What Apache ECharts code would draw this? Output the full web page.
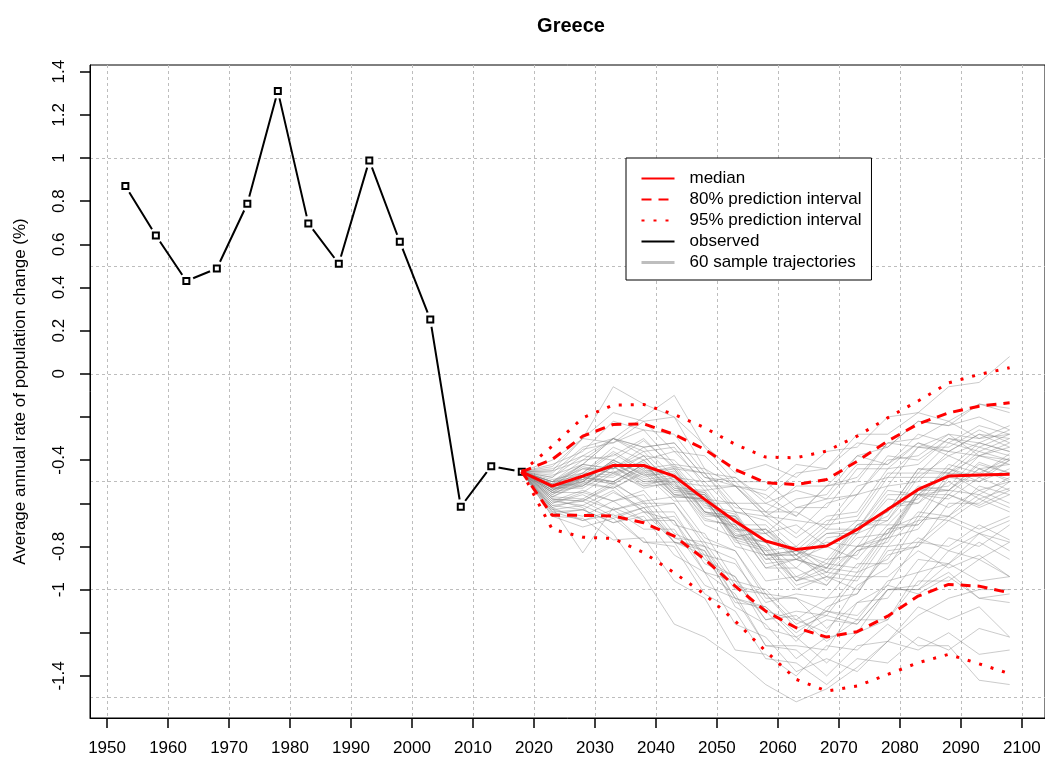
<!DOCTYPE html>
<html><head><meta charset="utf-8">
<script src="https://cdn.jsdelivr.net/npm/echarts@6/dist/echarts.min.js"></script>
<style>html,body{margin:0;padding:0;background:#fff}#c{width:1045px;height:760px}</style>
</head><body><div id="c"></div>
<script>
const obsYears = [1953,1958,1963,1968,1973,1978,1983,1988,1993,1998,2003,2008,2013,2018];
const obsValues = [0.870,0.641,0.430,0.488,0.788,1.310,0.697,0.510,0.989,0.612,0.252,-0.616,-0.428,-0.454];
const projYears = [2018,2023,2028,2033,2038,2043,2048,2053,2058,2063,2068,2073,2078,2083,2088,2093,2098];
const median   = [-0.454,-0.520,-0.474,-0.425,-0.425,-0.474,-0.582,-0.683,-0.775,-0.814,-0.798,-0.721,-0.629,-0.536,-0.474,-0.469,-0.466];
const pi80Upper= [-0.454,-0.397,-0.289,-0.235,-0.232,-0.281,-0.350,-0.443,-0.505,-0.513,-0.490,-0.405,-0.312,-0.232,-0.181,-0.150,-0.134];
const pi80Lower= [-0.454,-0.656,-0.656,-0.659,-0.690,-0.752,-0.860,-0.984,-1.100,-1.177,-1.220,-1.195,-1.123,-1.030,-0.976,-0.984,-1.015];
const pi95Upper= [-0.454,-0.335,-0.204,-0.145,-0.142,-0.188,-0.250,-0.327,-0.386,-0.389,-0.358,-0.289,-0.204,-0.126,-0.042,-0.003,0.028];
const pi95Lower= [-0.454,-0.721,-0.757,-0.763,-0.829,-0.922,-1.022,-1.146,-1.285,-1.416,-1.470,-1.447,-1.393,-1.339,-1.300,-1.344,-1.390];
// sample trajectories, values for 2023..2098 (each starts at the last observed value)
const trajectories = [
 [-0.40,-0.30,-0.18,-0.22,-0.20,-0.33,-0.46,-0.42,-0.48,-0.36,-0.34,-0.20,-0.18,-0.06,-0.04,0.08],
 [-0.45,-0.30,-0.06,-0.14,-0.20,-0.44,-0.52,-0.66,-0.68,-0.70,-0.52,-0.48,-0.34,-0.36,-0.28,-0.30],
 [-0.42,-0.36,-0.22,-0.26,-0.28,-0.46,-0.48,-0.58,-0.46,-0.44,-0.28,-0.28,-0.18,-0.22,-0.14,-0.16],
 [-0.48,-0.35,-0.32,-0.22,-0.36,-0.38,-0.52,-0.56,-0.66,-0.52,-0.48,-0.32,-0.30,-0.22,-0.30,-0.28],
 [-0.50,-0.42,-0.30,-0.34,-0.32,-0.48,-0.52,-0.66,-0.58,-0.56,-0.38,-0.34,-0.22,-0.24,-0.20,-0.26],
 [-0.46,-0.34,-0.30,-0.20,-0.10,-0.34,-0.50,-0.50,-0.62,-0.58,-0.56,-0.40,-0.38,-0.28,-0.30,-0.24],
 [-0.44,-0.38,-0.30,-0.38,-0.40,-0.54,-0.52,-0.54,-0.42,-0.44,-0.32,-0.34,-0.22,-0.24,-0.14,-0.18],
 [-0.50,-0.40,-0.38,-0.30,-0.44,-0.46,-0.62,-0.64,-0.74,-0.60,-0.56,-0.38,-0.40,-0.30,-0.34,-0.28],
 [-0.47,-0.42,-0.30,-0.34,-0.32,-0.48,-0.50,-0.64,-0.64,-0.72,-0.56,-0.52,-0.34,-0.34,-0.26,-0.32],
 [-0.43,-0.30,-0.32,-0.26,-0.42,-0.44,-0.60,-0.60,-0.66,-0.52,-0.50,-0.32,-0.34,-0.28,-0.38,-0.34],
 [-0.49,-0.46,-0.34,-0.40,-0.36,-0.50,-0.48,-0.60,-0.54,-0.58,-0.42,-0.42,-0.28,-0.32,-0.24,-0.28],
 [-0.52,-0.42,-0.44,-0.34,-0.48,-0.50,-0.64,-0.66,-0.76,-0.66,-0.64,-0.44,-0.42,-0.30,-0.32,-0.26],
 [-0.45,-0.40,-0.30,-0.36,-0.34,-0.52,-0.52,-0.64,-0.52,-0.52,-0.38,-0.42,-0.32,-0.36,-0.28,-0.34],
 [-0.48,-0.38,-0.40,-0.31,-0.43,-0.46,-0.64,-0.68,-0.80,-0.68,-0.66,-0.46,-0.46,-0.32,-0.36,-0.30],
 [-0.51,-0.46,-0.36,-0.44,-0.42,-0.58,-0.60,-0.74,-0.62,-0.62,-0.44,-0.44,-0.32,-0.38,-0.32,-0.36],
 [-0.52,-0.43,-0.46,-0.38,-0.52,-0.55,-0.72,-0.74,-0.86,-0.74,-0.72,-0.52,-0.50,-0.36,-0.38,-0.32],
 [-0.54,-0.50,-0.40,-0.47,-0.46,-0.64,-0.66,-0.84,-0.82,-0.88,-0.70,-0.64,-0.44,-0.46,-0.38,-0.40],
 [-0.50,-0.44,-0.46,-0.41,-0.56,-0.58,-0.76,-0.72,-0.82,-0.70,-0.68,-0.48,-0.48,-0.38,-0.44,-0.42],
 [-0.55,-0.52,-0.43,-0.50,-0.48,-0.65,-0.67,-0.86,-0.86,-0.92,-0.74,-0.68,-0.48,-0.48,-0.36,-0.40],
 [-0.53,-0.44,-0.44,-0.36,-0.50,-0.52,-0.70,-0.70,-0.84,-0.78,-0.80,-0.62,-0.60,-0.44,-0.48,-0.40],
 [-0.51,-0.52,-0.42,-0.48,-0.45,-0.62,-0.65,-0.84,-0.84,-0.96,-0.82,-0.78,-0.56,-0.54,-0.41,-0.46],
 [-0.56,-0.49,-0.51,-0.44,-0.57,-0.58,-0.76,-0.78,-0.90,-0.76,-0.74,-0.56,-0.56,-0.44,-0.50,-0.44],
 [-0.52,-0.50,-0.40,-0.46,-0.43,-0.60,-0.60,-0.74,-0.70,-0.80,-0.68,-0.68,-0.52,-0.54,-0.44,-0.50],
 [-0.54,-0.48,-0.50,-0.42,-0.54,-0.55,-0.74,-0.78,-0.96,-0.92,-0.94,-0.74,-0.68,-0.48,-0.50,-0.40],
 [-0.50,-0.47,-0.37,-0.45,-0.44,-0.64,-0.70,-0.90,-0.86,-0.90,-0.72,-0.66,-0.46,-0.46,-0.34,-0.38],
 [-0.57,-0.50,-0.53,-0.46,-0.59,-0.59,-0.75,-0.74,-0.84,-0.72,-0.72,-0.54,-0.56,-0.46,-0.54,-0.50],
 [-0.53,-0.52,-0.43,-0.51,-0.49,-0.67,-0.71,-0.90,-0.90,-0.98,-0.82,-0.76,-0.54,-0.52,-0.38,-0.42],
 [-0.55,-0.47,-0.48,-0.40,-0.53,-0.54,-0.72,-0.72,-0.84,-0.74,-0.74,-0.58,-0.60,-0.50,-0.58,-0.53],
 [-0.52,-0.49,-0.41,-0.49,-0.47,-0.64,-0.68,-0.88,-0.86,-0.90,-0.70,-0.64,-0.44,-0.44,-0.32,-0.36],
 [-0.56,-0.48,-0.50,-0.42,-0.56,-0.59,-0.80,-0.84,-1.00,-0.94,-0.96,-0.76,-0.72,-0.54,-0.56,-0.48],
 [-0.53,-0.53,-0.45,-0.53,-0.50,-0.66,-0.66,-0.82,-0.80,-0.90,-0.76,-0.74,-0.56,-0.58,-0.48,-0.54],
 [-0.51,-0.42,-0.44,-0.38,-0.53,-0.56,-0.76,-0.80,-0.96,-0.90,-0.92,-0.72,-0.66,-0.46,-0.47,-0.37],
 [-0.55,-0.55,-0.46,-0.52,-0.48,-0.64,-0.66,-0.84,-0.82,-0.92,-0.80,-0.80,-0.64,-0.66,-0.56,-0.62],
 [-0.54,-0.46,-0.47,-0.40,-0.54,-0.57,-0.78,-0.82,-0.96,-0.86,-0.84,-0.62,-0.58,-0.42,-0.46,-0.39],
 [-0.52,-0.51,-0.43,-0.52,-0.51,-0.68,-0.70,-0.86,-0.82,-0.86,-0.70,-0.70,-0.56,-0.62,-0.54,-0.60],
 [-0.57,-0.51,-0.53,-0.45,-0.57,-0.58,-0.77,-0.81,-0.98,-0.94,-1.00,-0.84,-0.80,-0.60,-0.60,-0.50],
 [-0.53,-0.50,-0.40,-0.47,-0.44,-0.61,-0.64,-0.84,-0.84,-0.94,-0.80,-0.76,-0.56,-0.56,-0.44,-0.49],
 [-0.55,-0.48,-0.51,-0.43,-0.56,-0.56,-0.73,-0.72,-0.86,-0.80,-0.86,-0.70,-0.70,-0.56,-0.61,-0.54],
 [-0.50,-0.49,-0.41,-0.50,-0.50,-0.70,-0.76,-0.96,-0.94,-0.98,-0.80,-0.74,-0.54,-0.54,-0.42,-0.46],
 [-0.54,-0.47,-0.50,-0.42,-0.55,-0.56,-0.75,-0.78,-0.94,-0.88,-0.90,-0.72,-0.70,-0.56,-0.62,-0.56],
 [-0.58,-0.59,-0.51,-0.59,-0.57,-0.76,-0.82,-1.04,-1.04,-1.10,-0.92,-0.86,-0.66,-0.68,-0.58,-0.64],
 [-0.60,-0.55,-0.59,-0.54,-0.70,-0.74,-0.96,-1.00,-1.14,-1.04,-1.02,-0.82,-0.80,-0.68,-0.74,-0.68],
 [-0.57,-0.58,-0.50,-0.60,-0.60,-0.80,-0.86,-1.10,-1.14,-1.20,-0.98,-0.90,-0.68,-0.66,-0.52,-0.56],
 [-0.62,-0.83,-0.62,-0.68,-0.66,-0.84,-0.88,-1.06,-1.02,-1.04,-0.88,-0.88,-0.76,-0.82,-0.74,-0.82],
 [-0.59,-0.54,-0.59,-0.56,-0.74,-0.80,-1.04,-1.10,-1.24,-1.08,-1.02,-0.80,-0.78,-0.66,-0.72,-0.66],
 [-0.61,-0.63,-0.55,-0.62,-0.60,-0.78,-0.82,-1.02,-1.04,-1.18,-1.06,-1.04,-0.86,-0.88,-0.78,-0.86],
 [-0.63,-0.61,-0.67,-0.62,-0.76,-0.78,-0.98,-1.02,-1.18,-1.12,-1.16,-1.00,-1.00,-0.88,-0.96,-0.94],
 [-0.58,-0.59,-0.52,-0.64,-0.68,-0.92,-1.02,-1.26,-1.26,-1.28,-1.06,-0.98,-0.78,-0.80,-0.70,-0.77],
 [-0.60,-0.56,-0.63,-0.60,-0.78,-0.84,-1.06,-1.08,-1.20,-1.10,-1.12,-0.98,-1.02,-0.94,-1.04,-1.02],
 [-0.64,-0.68,-0.63,-0.72,-0.72,-0.92,-0.96,-1.14,-1.12,-1.24,-1.14,-1.14,-0.96,-0.96,-0.86,-0.94],
 [-0.62,-0.58,-0.63,-0.59,-0.76,-0.82,-1.08,-1.16,-1.32,-1.22,-1.20,-1.00,-1.00,-0.92,-1.04,-1.06],
 [-0.66,-0.71,-0.67,-0.78,-0.78,-0.98,-1.04,-1.26,-1.28,-1.40,-1.26,-1.24,-1.08,-1.14,-1.08,-1.22],
 [-0.58,-0.62,-0.74,-0.94,-1.16,-1.22,-1.32,-1.44,-1.52,-1.46,-1.36,-1.24,-1.12,-1.04,-1.00,-1.00],
 [-0.65,-0.63,-0.69,-0.66,-0.84,-0.92,-1.16,-1.22,-1.38,-1.32,-1.38,-1.24,-1.28,-1.20,-1.30,-1.28],
 [-0.63,-0.66,-0.59,-0.68,-0.68,-0.88,-0.94,-1.14,-1.10,-1.12,-0.94,-0.94,-0.82,-0.90,-0.84,-0.94],
 [-0.66,-0.67,-0.77,-0.76,-0.96,-1.04,-1.28,-1.30,-1.40,-1.26,-1.28,-1.16,-1.26,-1.26,-1.42,-1.44],
 [-0.59,-0.61,-0.54,-0.64,-0.64,-0.86,-0.94,-1.18,-1.22,-1.34,-1.20,-1.14,-0.92,-0.88,-0.74,-0.78],
 [-0.61,-0.59,-0.66,-0.62,-0.78,-0.82,-1.04,-1.08,-1.22,-1.14,-1.16,-1.00,-0.98,-0.82,-0.86,-0.78],
 [-0.62,-0.68,-0.65,-0.78,-0.80,-1.02,-1.10,-1.32,-1.34,-1.44,-1.32,-1.34,-1.22,-1.28,-1.18,-1.22],
 [-0.64,-0.63,-0.69,-0.64,-0.78,-0.80,-1.00,-1.02,-1.16,-1.10,-1.14,-0.96,-0.92,-0.76,-0.80,-0.70]
];
const xTicks = [1950,1960,1970,1980,1990,2000,2010,2020,2030,2040,2050,2060,2070,2080,2090,2100];
const yTicks = [-1.4,-1.2,-1,-0.8,-0.6,-0.4,-0.2,0,0.2,0.4,0.6,0.8,1,1.2,1.4];
const yTickLabels = [-1.4,-1,-0.8,-0.4,0,0.2,0.4,0.6,0.8,1,1.2,1.4];
const yGridLines = [-1.5,-1,-0.5,0,0.5,1];

const pairs = (xs, ys) => xs.map((x, i) => [x, ys[i]]);
const FONT = 'Liberation Sans';

const series = [];
series.push({name:'observed', type:'line', data:pairs(obsYears, obsValues), symbol:'none',
  lineStyle:{color:'#000', width:2}, itemStyle:{color:'#000'}, z:2, silent:true});
series.push({name:'obsGap', type:'scatter', data:pairs(obsYears, obsValues), symbol:'circle', symbolSize:15,
  itemStyle:{color:'#fff', opacity:1}, z:3, silent:true});
series.push({name:'obsPoints', type:'scatter', data:pairs(obsYears, obsValues), symbol:'rect', symbolSize:6,
  itemStyle:{color:'#fff', borderColor:'#000', borderWidth:2, opacity:1}, z:4, silent:true});
trajectories.forEach(row => {
  series.push({name:'60 sample trajectories', type:'line', symbol:'none', silent:true, z:5,
    data:pairs(projYears, [obsValues[obsValues.length-1]].concat(row)),
    lineStyle:{color:'rgba(130,130,130,0.42)', width:1}, itemStyle:{color:'#bebebe'}});
});
const red = '#ff0000';
series.push({name:'median', type:'line', symbol:'none', silent:true, z:10, data:pairs(projYears, median),
  lineStyle:{color:red, width:3}, itemStyle:{color:red}});
[pi80Upper, pi80Lower].forEach(d => series.push({name:'80% prediction interval', type:'line', symbol:'none', silent:true, z:10,
  data:pairs(projYears, d), lineStyle:{color:red, width:3, type:[10,7]}, itemStyle:{color:red}}));
[pi95Upper, pi95Lower].forEach(d => series.push({name:'95% prediction interval', type:'line', symbol:'none', silent:true, z:10,
  data:pairs(projYears, d), lineStyle:{color:red, width:3, type:[3,9]}, itemStyle:{color:red}}));

const chart = echarts.init(document.getElementById('c'), null, {renderer:'canvas'});
chart.setOption({
  animation:false,
  backgroundColor:'#fff',
  title:{text:'Greece', left:566, top:11, textAlign:'center',
    textStyle:{fontFamily:FONT, fontWeight:'bold', fontSize:20, color:'#000'}},
  grid:{left:90, top:65, width:957, height:653, show:true, borderColor:'#000', borderWidth:1, backgroundColor:'transparent'},
  legend:{
    data:[
      {name:'median'},
      {name:'80% prediction interval'},
      {name:'95% prediction interval'},
      {name:'observed'},
      {name:'60 sample trajectories', lineStyle:{color:'#bebebe', width:3}}
    ],
    orient:'vertical', left:626, top:158, padding:[12,10,9,14],
    itemWidth:33, itemHeight:14, itemGap:4,
    itemStyle:{opacity:0},
    backgroundColor:'#fff', borderColor:'#000', borderWidth:1, borderRadius:0,
    selectedMode:false,
    textStyle:{fontFamily:FONT, fontSize:17, color:'#000', padding:[0,0,0,10]}
  },
  xAxis:{type:'value', min:1947.2, max:2103.8,
    axisLine:{show:true, onZero:false, lineStyle:{color:'#000', width:1}},
    axisTick:{show:true, length:10, inside:false, customValues:xTicks, lineStyle:{color:'#000', width:1.5}},
    axisLabel:{customValues:xTicks, margin:22, fontFamily:FONT, fontSize:17, color:'#000',
      formatter: v => String(v)},
    splitLine:{show:true, lineStyle:{color:'#bdbdbd', width:1, type:[3,3]}}
  },
  yAxis:[{type:'value', min:-1.595, max:1.431, position:'left',
    name:'Average annual rate of population change (%)', nameLocation:'middle', nameGap:61, nameRotate:90,
    nameTextStyle:{fontFamily:FONT, fontSize:17, color:'#000'},
    axisLine:{show:true, onZero:false, lineStyle:{color:'#000', width:1}},
    axisTick:{show:true, length:10, customValues:yTicks, lineStyle:{color:'#000', width:1.5}},
    axisLabel:{customValues:yTickLabels, rotate:90, margin:22, fontFamily:FONT, fontSize:17, color:'#000',
      formatter: v => String(v)},
    splitLine:{show:false}
  },{type:'value', min:-1.595, max:1.431, position:'right',
    axisLine:{show:false}, axisLabel:{show:false},
    axisTick:{show:false, customValues:yGridLines},
    splitLine:{show:true, lineStyle:{color:'#bdbdbd', width:1, type:[3,3]}}
  }],
  series: series
});
</script></body></html>
